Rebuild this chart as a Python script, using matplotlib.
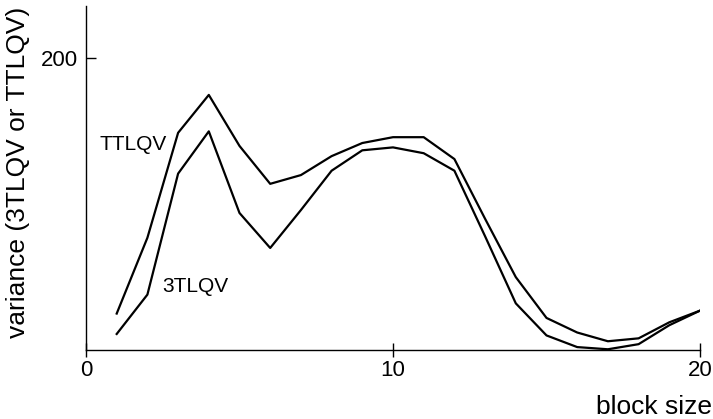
import matplotlib
matplotlib.use("Agg")
import matplotlib.pyplot as plt

plt.rcParams['font.family'] = ['Liberation Sans', 'DejaVu Sans']

# block sizes and the two variance curves
block = [1, 2, 3, 4, 5, 6, 7, 8, 9, 10, 11, 12, 13, 14, 15, 16, 17, 18, 19, 20]
ttlqv = [25, 77, 149, 175, 140, 114, 120, 133, 142, 146, 146, 131, 90, 50, 22, 12, 6, 8, 19, 27]
tlqv3 = [11, 38, 121, 150, 94, 70, 96, 123, 137, 139, 135, 123, 78, 32, 10, 2, 0.5, 4, 17, 27]

fig = plt.figure(figsize=(7.13, 4.19), dpi=100)
ax = fig.add_axes([86 / 713, 69 / 419, 614 / 713, 344 / 419])

ax.plot(block, ttlqv, c='k', lw=1.6)
ax.plot(block, tlqv3, c='k', lw=1.6)

ax.set_xlim(0, 20)
ax.set_ylim(0, 236)
ax.set_xticks([0, 10, 20])
ax.set_yticks([200])

ax.spines['top'].set_visible(False)
ax.spines['right'].set_visible(False)
ax.spines['left'].set_linewidth(1.0)
ax.spines['bottom'].set_linewidth(1.0)
ax.tick_params(axis='x', direction='inout', length=10, width=1.0, labelsize=16, pad=2)
ax.tick_params(axis='y', direction='in', length=7, width=1.0, labelsize=16, pad=6)

# curve labels
fig.text(100 / 713, 1 - 145 / 419, 'TTLQV', fontsize=15, ha='left', va='center')
fig.text(162 / 713, 1 - 286 / 419, '3TLQV', fontsize=15, ha='left', va='center')

fig.text(18 / 713, 1 - 172 / 419, 'variance (3TLQV or TTLQV)', rotation=90,
         ha='center', va='center', fontsize=19)
fig.text(712 / 713, 1 - 407 / 419, 'block size', ha='right', va='center', fontsize=19)

fig.savefig('out.png', dpi=100)
